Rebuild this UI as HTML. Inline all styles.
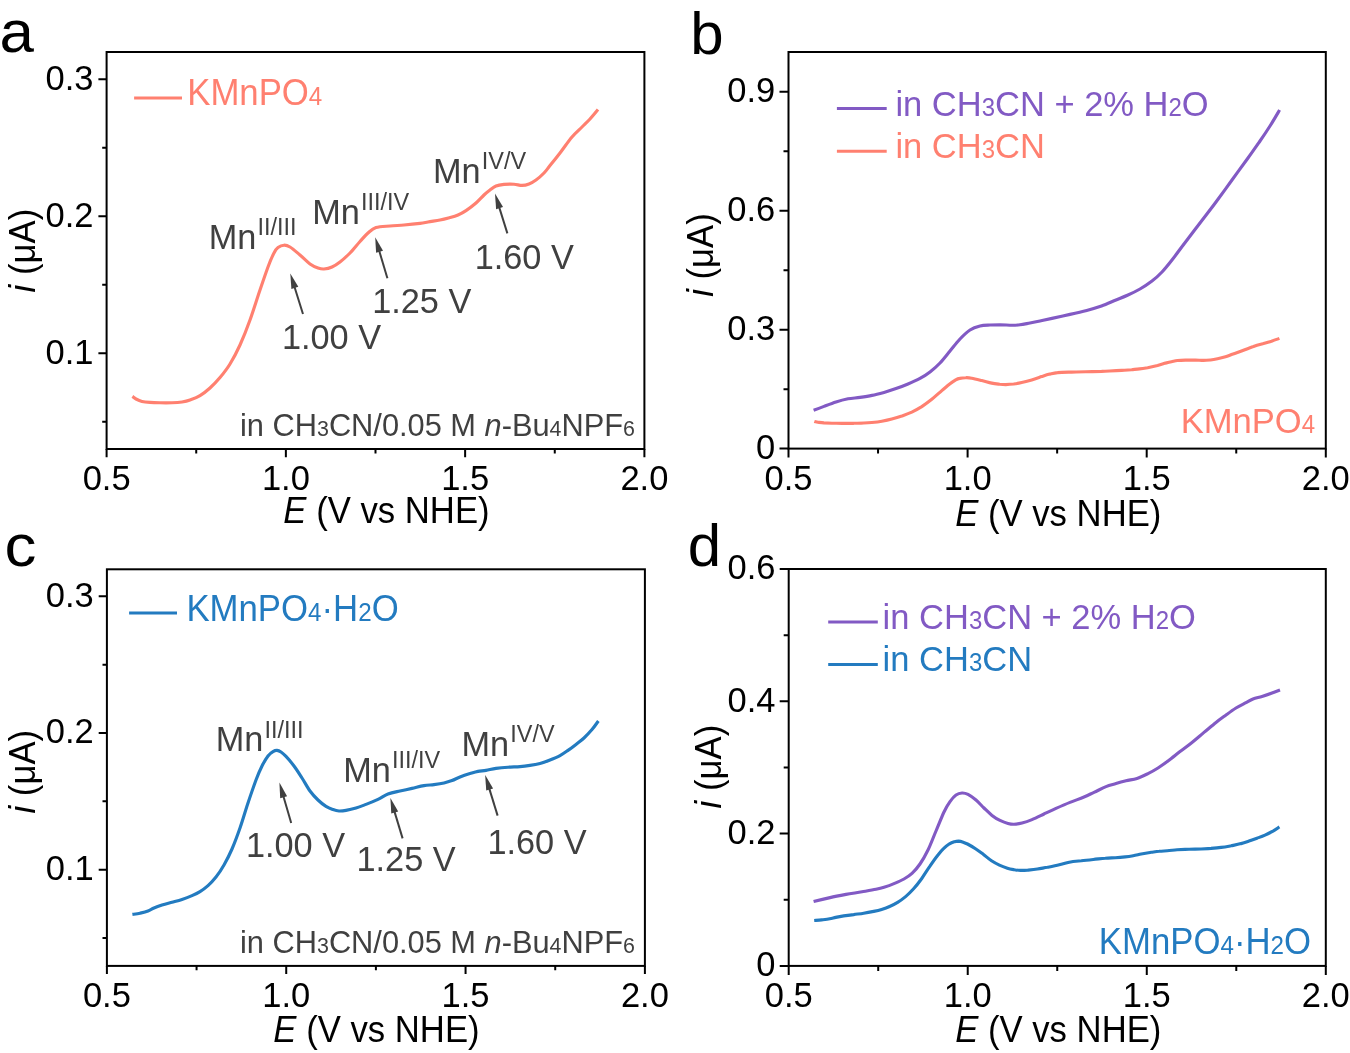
<!DOCTYPE html>
<html lang="en">
<head>
<meta charset="utf-8">
<title>Cyclic voltammetry of KMnPO4 and KMnPO4·H2O</title>
<style>
html,body{margin:0;padding:0;background:#fff;}
body{width:1350px;height:1053px;overflow:hidden;}
svg{display:block;font-family:"Liberation Sans",sans-serif;}
svg text{white-space:pre;}
</style>
</head>
<body>
<svg width="1350" height="1053" viewBox="0 0 1350 1053" role="img" aria-label="Voltammograms of KMnPO4 and KMnPO4·H2O">
<rect width="1350" height="1053" fill="#fff"/>
<rect x="106.6" y="52.0" width="537.80" height="397.00" fill="none" stroke="#000" stroke-width="2.0"/>
<path d="M106.60,449.0v8.2M285.87,449.0v8.2M465.13,449.0v8.2M644.40,449.0v8.2M196.23,449.0v4.4M375.50,449.0v4.4M554.77,449.0v4.4M106.6,79.30h-8.2M106.6,216.30h-8.2M106.6,353.30h-8.2M106.6,147.80h-4.4M106.6,284.80h-4.4M106.6,421.80h-4.4" stroke="#000" stroke-width="2.0" fill="none"/>
<text transform="translate(106.60,490.0) scale(1,1.04)" font-size="34.5px" text-anchor="middle">0.5</text>
<text transform="translate(285.87,490.0) scale(1,1.04)" font-size="34.5px" text-anchor="middle">1.0</text>
<text transform="translate(465.13,490.0) scale(1,1.04)" font-size="34.5px" text-anchor="middle">1.5</text>
<text transform="translate(644.40,490.0) scale(1,1.04)" font-size="34.5px" text-anchor="middle">2.0</text>
<text transform="translate(93.40,89.70) scale(1,1.04)" font-size="34.5px" text-anchor="end">0.3</text>
<text transform="translate(93.40,226.70) scale(1,1.04)" font-size="34.5px" text-anchor="end">0.2</text>
<text transform="translate(93.40,363.70) scale(1,1.04)" font-size="34.5px" text-anchor="end">0.1</text>
<path d="M132.4,396.4C133.0,396.8 134.4,398.2 136.0,399.0C137.6,399.8 139.7,400.8 142.0,401.4C144.3,402.0 147.0,402.2 150.0,402.4C153.0,402.6 156.3,402.7 160.0,402.8C163.7,402.9 168.3,402.9 172.0,402.8C175.7,402.7 179.0,402.5 182.0,402.0C185.0,401.5 187.0,401.1 190.0,400.0C193.0,398.9 196.7,397.6 200.0,395.6C203.3,393.6 206.7,391.0 210.0,388.0C213.3,385.0 216.7,381.6 220.0,377.6C223.3,373.6 226.7,369.4 230.0,364.0C233.3,358.6 236.7,352.3 240.0,345.0C243.3,337.7 246.7,329.2 250.0,320.0C253.3,310.8 257.0,298.8 260.0,290.0C263.0,281.2 265.7,273.2 268.0,267.0C270.3,260.8 272.3,256.2 274.0,253.0C275.7,249.8 276.3,248.9 278.0,247.6C279.7,246.3 282.0,245.3 284.0,245.2C286.0,245.1 287.3,245.4 290.0,247.0C292.7,248.6 296.7,252.2 300.0,255.0C303.3,257.8 307.0,261.8 310.0,264.0C313.0,266.2 315.7,267.2 318.0,268.0C320.3,268.8 321.7,269.2 324.0,269.0C326.3,268.8 329.3,268.2 332.0,267.0C334.7,265.8 337.0,264.3 340.0,262.0C343.0,259.7 346.7,256.4 350.0,253.0C353.3,249.6 357.0,244.8 360.0,241.5C363.0,238.2 365.3,235.3 368.0,233.0C370.7,230.7 372.3,228.8 376.0,227.6C379.7,226.4 385.3,226.4 390.0,226.0C394.7,225.6 399.0,225.4 404.0,225.0C409.0,224.6 416.0,223.9 420.0,223.4C424.0,222.9 424.7,222.6 428.0,222.0C431.3,221.4 436.3,220.7 440.0,220.0C443.7,219.3 447.0,218.4 450.0,217.6C453.0,216.8 455.3,216.2 458.0,215.0C460.7,213.8 463.0,212.6 466.0,210.6C469.0,208.6 473.0,205.6 476.0,203.0C479.0,200.4 481.7,197.2 484.0,195.0C486.3,192.8 488.0,191.5 490.0,190.0C492.0,188.5 493.7,186.9 496.0,186.0C498.3,185.1 501.0,184.7 504.0,184.4C507.0,184.1 511.0,184.0 514.0,184.2C517.0,184.4 519.5,185.4 522.0,185.4C524.5,185.4 526.7,184.9 529.0,184.0C531.3,183.1 533.5,181.8 536.0,180.0C538.5,178.2 541.7,175.4 544.0,173.0C546.3,170.6 547.3,168.9 550.0,165.6C552.7,162.3 556.3,157.8 560.0,153.0C563.7,148.2 568.3,141.3 572.0,137.0C575.7,132.7 579.0,130.0 582.0,127.0C585.0,124.0 587.3,121.9 590.0,119.0C592.7,116.1 596.7,111.2 598.0,109.6" fill="none" stroke="#FF8070" stroke-width="3.15" stroke-linejoin="round" stroke-linecap="butt"/>
<line x1="134.1" y1="97.9" x2="182" y2="97.9" stroke="#FF8070" stroke-width="3"/>
<text transform="translate(187.25,105.00) scale(1,1.04)" fill="#FF8070" font-size="34.75px" text-anchor="start"><tspan dy="0">KMnPO</tspan><tspan dy="0.00" font-size="24.17px">4</tspan></text>
<text transform="translate(208.69,249.10) scale(1,1.04)" fill="#404040" font-size="34.3px" text-anchor="start"><tspan dy="0">Mn</tspan><tspan dx="1.2" dy="-13.37" font-size="23.46px">II/III</tspan></text>
<text transform="translate(312.19,224.20) scale(1,1.04)" fill="#404040" font-size="34.3px" text-anchor="start"><tspan dy="0">Mn</tspan><tspan dx="1.2" dy="-13.37" font-size="23.46px">III/IV</tspan></text>
<text transform="translate(432.89,182.90) scale(1,1.04)" fill="#404040" font-size="34.3px" text-anchor="start"><tspan dy="0">Mn</tspan><tspan dx="1.2" dy="-13.37" font-size="23.46px">IV/V</tspan></text>
<text transform="translate(281.89,348.80) scale(1,1.04)" fill="#404040" font-size="34.3px" text-anchor="start"><tspan dy="0">1.00 V</tspan></text>
<text transform="translate(372.19,312.70) scale(1,1.04)" fill="#404040" font-size="34.3px" text-anchor="start"><tspan dy="0">1.25 V</tspan></text>
<text transform="translate(474.69,269.20) scale(1,1.04)" fill="#404040" font-size="34.3px" text-anchor="start"><tspan dy="0">1.60 V</tspan></text>
<line x1="303.0" y1="314.0" x2="294.5" y2="287.0" stroke="#404040" stroke-width="2.0"/>
<polygon points="290.3,273.4 298.3,286.8 291.4,289.0" fill="#404040"/>
<line x1="387.4" y1="278.3" x2="379.2" y2="250.8" stroke="#404040" stroke-width="2.0"/>
<polygon points="375.2,237.2 383.0,250.7 376.1,252.8" fill="#404040"/>
<line x1="507.4" y1="233.4" x2="499.2" y2="207.2" stroke="#404040" stroke-width="2.0"/>
<polygon points="495.0,193.6 503.0,207.0 496.1,209.2" fill="#404040"/>
<text transform="translate(239.97,435.60) scale(1,1.04)" fill="#404040" font-size="30.8px" text-anchor="start"><tspan dy="0">in CH</tspan><tspan dy="0.00" font-size="21.43px">3</tspan><tspan dy="0">CN/0.05 M </tspan><tspan dy="0.00" font-style="italic">n</tspan><tspan dy="0">-Bu</tspan><tspan dy="0.00" font-size="21.43px">4</tspan><tspan dy="0">NPF</tspan><tspan dy="0.00" font-size="21.43px">6</tspan></text>
<text transform="translate(283.36,522.90) scale(1,1.04)" fill="#000" font-size="34.7px" text-anchor="start"><tspan dy="0.00" font-style="italic">E</tspan><tspan dy="0"> (V vs NHE)</tspan></text>
<text transform="translate(35.10,292.40) rotate(-90) scale(1,1.04)" font-size="34.7px"><tspan font-style="italic">i</tspan> (μA)</text>
<text transform="translate(-0.60,51.6) scale(1.03,1)" font-size="60px">a</text>
<rect x="788.5" y="52.0" width="537.30" height="396.60" fill="none" stroke="#000" stroke-width="2.0"/>
<path d="M788.50,448.6v9.0M967.60,448.6v9.0M1146.70,448.6v9.0M1325.80,448.6v9.0M878.05,448.6v5.0M1057.15,448.6v5.0M1236.25,448.6v5.0M788.5,91.80h-9.0M788.5,210.73h-9.0M788.5,329.67h-9.0M788.5,448.60h-9.0M788.5,151.27h-5.0M788.5,270.20h-5.0M788.5,389.13h-5.0" stroke="#000" stroke-width="2.0" fill="none"/>
<text transform="translate(788.50,490.0) scale(1,1.04)" font-size="34.5px" text-anchor="middle">0.5</text>
<text transform="translate(967.60,490.0) scale(1,1.04)" font-size="34.5px" text-anchor="middle">1.0</text>
<text transform="translate(1146.70,490.0) scale(1,1.04)" font-size="34.5px" text-anchor="middle">1.5</text>
<text transform="translate(1325.80,490.0) scale(1,1.04)" font-size="34.5px" text-anchor="middle">2.0</text>
<text transform="translate(775.30,102.20) scale(1,1.04)" font-size="34.5px" text-anchor="end">0.9</text>
<text transform="translate(775.30,221.13) scale(1,1.04)" font-size="34.5px" text-anchor="end">0.6</text>
<text transform="translate(775.30,340.07) scale(1,1.04)" font-size="34.5px" text-anchor="end">0.3</text>
<text transform="translate(775.30,459.00) scale(1,1.04)" font-size="34.5px" text-anchor="end">0</text>
<path d="M814.3,421.4C814.9,421.6 816.3,421.9 817.9,422.2C819.5,422.4 821.5,422.7 823.9,422.9C826.2,423.0 828.9,423.1 831.9,423.2C834.9,423.2 838.2,423.3 841.9,423.3C845.5,423.3 850.2,423.3 853.8,423.3C857.5,423.2 860.8,423.2 863.8,423.0C866.8,422.9 868.8,422.8 871.8,422.5C874.8,422.2 878.5,421.8 881.8,421.2C885.1,420.6 888.5,419.9 891.8,419.0C895.1,418.1 898.5,417.1 901.8,416.0C905.1,414.8 908.5,413.6 911.8,412.1C915.1,410.5 918.4,408.7 921.8,406.6C925.1,404.4 928.4,402.0 931.8,399.3C935.1,396.7 938.8,393.2 941.8,390.6C944.8,388.1 947.4,385.8 949.7,384.0C952.1,382.2 954.1,380.9 955.7,379.9C957.4,379.0 958.1,378.7 959.7,378.4C961.4,378.0 963.7,377.7 965.7,377.7C967.7,377.6 969.1,377.7 971.7,378.2C974.4,378.7 978.4,379.7 981.7,380.5C985.1,381.3 988.7,382.5 991.7,383.1C994.7,383.7 997.4,384.0 999.7,384.3C1002.0,384.5 1003.4,384.6 1005.7,384.6C1008.0,384.5 1011.0,384.3 1013.7,384.0C1016.4,383.6 1018.7,383.2 1021.7,382.5C1024.7,381.9 1028.3,380.9 1031.7,379.9C1035.0,378.9 1038.7,377.6 1041.7,376.6C1044.7,375.6 1047.0,374.8 1049.7,374.1C1052.3,373.5 1054.0,372.9 1057.6,372.6C1061.3,372.2 1067.0,372.2 1071.6,372.1C1076.3,372.0 1080.6,372.0 1085.6,371.8C1090.6,371.7 1097.6,371.5 1101.6,371.4C1105.6,371.2 1106.3,371.1 1109.6,371.0C1112.9,370.8 1117.9,370.6 1121.6,370.4C1125.3,370.2 1128.6,369.9 1131.6,369.7C1134.6,369.4 1136.9,369.3 1139.6,368.9C1142.2,368.6 1144.6,368.2 1147.6,367.7C1150.6,367.1 1154.6,366.2 1157.6,365.5C1160.6,364.7 1163.2,363.8 1165.5,363.1C1167.9,362.5 1169.5,362.1 1171.5,361.7C1173.5,361.3 1175.2,360.8 1177.5,360.5C1179.9,360.3 1182.5,360.2 1185.5,360.1C1188.5,360.0 1192.5,360.0 1195.5,360.0C1198.5,360.1 1201.0,360.4 1203.5,360.4C1206.0,360.4 1208.2,360.2 1210.5,360.0C1212.8,359.7 1215.0,359.3 1217.5,358.8C1220.0,358.3 1223.2,357.5 1225.5,356.8C1227.8,356.1 1228.8,355.6 1231.5,354.6C1234.2,353.7 1237.8,352.4 1241.5,351.0C1245.1,349.6 1249.8,347.6 1253.5,346.4C1257.1,345.1 1260.5,344.3 1263.5,343.5C1266.5,342.6 1268.8,342.0 1271.5,341.2C1274.1,340.3 1278.1,338.9 1279.4,338.4" fill="none" stroke="#FF8070" stroke-width="3.15" stroke-linejoin="round" stroke-linecap="butt"/>
<path d="M813.6,410.2C815.3,409.6 820.3,407.8 824.0,406.4C827.7,405.0 832.0,403.3 836.0,402.0C840.0,400.7 844.0,399.6 848.0,398.8C852.0,398.0 856.0,398.0 860.0,397.4C864.0,396.8 868.0,396.2 872.0,395.4C876.0,394.6 880.0,393.5 884.0,392.4C888.0,391.3 892.0,390.0 896.0,388.6C900.0,387.2 904.0,385.7 908.0,384.0C912.0,382.3 916.3,380.4 920.0,378.4C923.7,376.4 926.7,374.6 930.0,372.0C933.3,369.4 936.7,366.5 940.0,363.0C943.3,359.5 946.7,355.0 950.0,351.0C953.3,347.0 956.7,342.5 960.0,339.0C963.3,335.5 966.7,332.2 970.0,330.0C973.3,327.8 976.7,326.8 980.0,326.0C983.3,325.2 986.7,325.2 990.0,325.0C993.3,324.8 996.3,324.8 1000.0,324.8C1003.7,324.8 1008.7,325.2 1012.0,325.2C1015.3,325.2 1017.0,325.2 1020.0,324.8C1023.0,324.4 1026.7,323.6 1030.0,323.0C1033.3,322.4 1036.3,321.8 1040.0,321.0C1043.7,320.2 1047.0,319.5 1052.0,318.4C1057.0,317.3 1064.2,315.7 1070.0,314.4C1075.8,313.1 1081.5,311.8 1086.7,310.4C1092.0,309.0 1096.6,307.7 1101.5,306.0C1106.4,304.3 1111.6,301.8 1116.0,300.0C1120.4,298.2 1124.0,296.8 1128.0,295.0C1132.0,293.2 1136.0,291.3 1140.0,289.0C1144.0,286.7 1148.3,283.8 1152.0,281.0C1155.7,278.2 1158.7,275.5 1162.0,272.0C1165.3,268.5 1168.3,264.7 1172.0,260.0C1175.7,255.3 1179.3,250.2 1184.0,244.0C1188.7,237.8 1194.7,230.0 1200.0,223.0C1205.3,216.0 1210.7,209.2 1216.0,202.0C1221.3,194.8 1226.7,187.3 1232.0,180.0C1237.3,172.7 1243.3,164.5 1248.0,158.0C1252.7,151.5 1256.3,146.3 1260.0,141.0C1263.7,135.7 1266.7,131.2 1270.0,126.0C1273.3,120.8 1278.0,112.7 1279.6,110.0" fill="none" stroke="#825AC4" stroke-width="3.15" stroke-linejoin="round" stroke-linecap="butt"/>
<line x1="836.9" y1="108.5" x2="886.7" y2="108.5" stroke="#825AC4" stroke-width="3"/>
<line x1="836.9" y1="151.3" x2="886.7" y2="151.3" stroke="#FF8070" stroke-width="3"/>
<text transform="translate(895.42,115.50) scale(1,1.04)" fill="#825AC4" font-size="34.5px" text-anchor="start"><tspan dy="0">in CH</tspan><tspan dy="0.00" font-size="24.00px">3</tspan><tspan dy="0">CN + 2% H</tspan><tspan dy="0.00" font-size="24.00px">2</tspan><tspan dy="0">O</tspan></text>
<text transform="translate(895.42,158.20) scale(1,1.04)" fill="#FF8070" font-size="34.5px" text-anchor="start"><tspan dy="0">in CH</tspan><tspan dy="0.00" font-size="24.00px">3</tspan><tspan dy="0">CN</tspan></text>
<text transform="translate(1180.66,433.40) scale(1,1.04)" fill="#FF8070" font-size="34.6px" text-anchor="start"><tspan dy="0">KMnPO</tspan><tspan dy="0.00" font-size="24.07px">4</tspan></text>
<text transform="translate(955.16,526.20) scale(1,1.04)" fill="#000" font-size="34.7px" text-anchor="start"><tspan dy="0.00" font-style="italic">E</tspan><tspan dy="0"> (V vs NHE)</tspan></text>
<text transform="translate(712.90,296.80) rotate(-90) scale(1,1.04)" font-size="34.7px"><tspan font-style="italic">i</tspan> (μA)</text>
<text transform="translate(690.16,54.2) scale(1.0,1)" font-size="60px">b</text>
<rect x="106.9" y="569.3" width="538.00" height="396.60" fill="none" stroke="#000" stroke-width="2.0"/>
<path d="M106.90,965.9v8.2M286.23,965.9v8.2M465.57,965.9v8.2M644.90,965.9v8.2M196.57,965.9v4.4M375.90,965.9v4.4M555.23,965.9v4.4M106.9,596.30h-8.2M106.9,733.00h-8.2M106.9,869.70h-8.2M106.9,664.65h-4.4M106.9,801.35h-4.4M106.9,938.05h-4.4" stroke="#000" stroke-width="2.0" fill="none"/>
<text transform="translate(106.90,1007.0) scale(1,1.04)" font-size="34.5px" text-anchor="middle">0.5</text>
<text transform="translate(286.23,1007.0) scale(1,1.04)" font-size="34.5px" text-anchor="middle">1.0</text>
<text transform="translate(465.57,1007.0) scale(1,1.04)" font-size="34.5px" text-anchor="middle">1.5</text>
<text transform="translate(644.90,1007.0) scale(1,1.04)" font-size="34.5px" text-anchor="middle">2.0</text>
<text transform="translate(93.70,606.70) scale(1,1.04)" font-size="34.5px" text-anchor="end">0.3</text>
<text transform="translate(93.70,743.40) scale(1,1.04)" font-size="34.5px" text-anchor="end">0.2</text>
<text transform="translate(93.70,880.10) scale(1,1.04)" font-size="34.5px" text-anchor="end">0.1</text>
<path d="M132.4,914.4C133.7,914.2 137.4,913.8 140.0,913.2C142.6,912.6 145.7,911.9 148.0,911.0C150.3,910.1 151.7,909.0 154.0,908.0C156.3,907.0 159.0,906.0 162.0,905.0C165.0,904.0 168.7,903.1 172.0,902.2C175.3,901.3 178.7,900.5 182.0,899.4C185.3,898.3 189.0,896.9 192.0,895.6C195.0,894.3 197.3,893.3 200.0,891.6C202.7,889.9 205.3,888.0 208.0,885.6C210.7,883.2 213.3,880.4 216.0,877.0C218.7,873.6 221.3,869.7 224.0,865.0C226.7,860.3 229.3,855.2 232.0,849.0C234.7,842.8 237.3,835.7 240.0,828.0C242.7,820.3 245.3,811.0 248.0,803.0C250.7,795.0 253.7,786.2 256.0,780.0C258.3,773.8 260.0,770.0 262.0,766.0C264.0,762.0 266.2,758.4 268.0,756.0C269.8,753.6 271.5,752.5 273.0,751.6C274.5,750.7 275.7,750.3 277.0,750.4C278.3,750.5 279.5,751.0 281.0,752.0C282.5,753.0 283.8,754.1 286.0,756.4C288.2,758.7 291.3,762.4 294.0,766.0C296.7,769.6 299.3,773.8 302.0,778.0C304.7,782.2 307.3,787.3 310.0,791.0C312.7,794.7 315.3,797.4 318.0,800.0C320.7,802.6 323.5,804.8 326.0,806.4C328.5,808.0 330.8,808.8 333.0,809.6C335.2,810.4 336.8,810.9 339.0,811.0C341.2,811.1 343.2,810.9 346.0,810.4C348.8,809.9 352.7,809.0 356.0,808.0C359.3,807.0 362.3,805.8 366.0,804.4C369.7,803.0 374.3,801.1 378.0,799.4C381.7,797.7 384.3,795.4 388.0,794.0C391.7,792.6 396.0,791.9 400.0,791.0C404.0,790.1 408.0,789.3 412.0,788.4C416.0,787.5 420.3,786.2 424.0,785.6C427.7,785.0 430.7,785.0 434.0,784.6C437.3,784.2 441.0,783.7 444.0,783.0C447.0,782.3 449.3,781.6 452.0,780.6C454.7,779.6 457.0,778.2 460.0,777.0C463.0,775.8 467.0,774.5 470.0,773.6C473.0,772.7 475.3,771.9 478.0,771.4C480.7,770.9 483.0,770.9 486.0,770.4C489.0,769.9 492.3,768.9 496.0,768.4C499.7,767.9 504.0,767.5 508.0,767.2C512.0,766.9 516.3,766.9 520.0,766.6C523.7,766.3 526.7,765.9 530.0,765.4C533.3,764.9 536.7,764.3 540.0,763.4C543.3,762.5 546.7,761.3 550.0,760.0C553.3,758.7 557.0,757.2 560.0,755.6C563.0,754.0 565.3,752.3 568.0,750.4C570.7,748.5 573.3,746.5 576.0,744.4C578.7,742.3 581.3,740.5 584.0,738.0C586.7,735.5 589.6,732.4 592.0,729.6C594.4,726.8 597.3,722.4 598.4,721.0" fill="none" stroke="#237BC0" stroke-width="3.15" stroke-linejoin="round" stroke-linecap="butt"/>
<line x1="129.1" y1="613.0" x2="177" y2="613.0" stroke="#237BC0" stroke-width="3"/>
<text transform="translate(186.45,620.60) scale(1,1.04)" fill="#237BC0" font-size="34.75px" text-anchor="start"><tspan dy="0">KMnPO</tspan><tspan dy="0.00" font-size="24.17px">4</tspan><tspan dy="0">·H</tspan><tspan dy="0.00" font-size="24.17px">2</tspan><tspan dy="0">O</tspan></text>
<text transform="translate(215.69,751.40) scale(1,1.04)" fill="#404040" font-size="34.3px" text-anchor="start"><tspan dy="0">Mn</tspan><tspan dx="1.2" dy="-13.37" font-size="23.46px">II/III</tspan></text>
<text transform="translate(343.19,782.00) scale(1,1.04)" fill="#404040" font-size="34.3px" text-anchor="start"><tspan dy="0">Mn</tspan><tspan dx="1.2" dy="-13.37" font-size="23.46px">III/IV</tspan></text>
<text transform="translate(461.49,755.60) scale(1,1.04)" fill="#404040" font-size="34.3px" text-anchor="start"><tspan dy="0">Mn</tspan><tspan dx="1.2" dy="-13.37" font-size="23.46px">IV/V</tspan></text>
<text transform="translate(245.89,856.60) scale(1,1.04)" fill="#404040" font-size="34.3px" text-anchor="start"><tspan dy="0">1.00 V</tspan></text>
<text transform="translate(356.49,871.30) scale(1,1.04)" fill="#404040" font-size="34.3px" text-anchor="start"><tspan dy="0">1.25 V</tspan></text>
<text transform="translate(487.39,854.20) scale(1,1.04)" fill="#404040" font-size="34.3px" text-anchor="start"><tspan dy="0">1.60 V</tspan></text>
<line x1="291.2" y1="823.0" x2="283.4" y2="796.2" stroke="#404040" stroke-width="2.0"/>
<polygon points="279.4,782.6 287.1,796.2 280.2,798.2" fill="#404040"/>
<line x1="402.6" y1="838.4" x2="394.5" y2="811.6" stroke="#404040" stroke-width="2.0"/>
<polygon points="390.4,798.0 398.2,811.5 391.3,813.6" fill="#404040"/>
<line x1="497.6" y1="815.6" x2="489.3" y2="788.6" stroke="#404040" stroke-width="2.0"/>
<polygon points="485.2,775.0 493.1,788.5 486.2,790.6" fill="#404040"/>
<text transform="translate(239.97,953.30) scale(1,1.04)" fill="#404040" font-size="30.8px" text-anchor="start"><tspan dy="0">in CH</tspan><tspan dy="0.00" font-size="21.43px">3</tspan><tspan dy="0">CN/0.05 M </tspan><tspan dy="0.00" font-style="italic">n</tspan><tspan dy="0">-Bu</tspan><tspan dy="0.00" font-size="21.43px">4</tspan><tspan dy="0">NPF</tspan><tspan dy="0.00" font-size="21.43px">6</tspan></text>
<text transform="translate(273.36,1041.80) scale(1,1.04)" fill="#000" font-size="34.7px" text-anchor="start"><tspan dy="0.00" font-style="italic">E</tspan><tspan dy="0"> (V vs NHE)</tspan></text>
<text transform="translate(35.10,813.50) rotate(-90) scale(1,1.04)" font-size="34.7px"><tspan font-style="italic">i</tspan> (μA)</text>
<text transform="translate(4.42,566.0) scale(1.064,1)" font-size="60px">c</text>
<rect x="788.7" y="569.0" width="537.10" height="396.90" fill="none" stroke="#000" stroke-width="2.0"/>
<path d="M788.70,965.9v9.0M967.73,965.9v9.0M1146.77,965.9v9.0M1325.80,965.9v9.0M878.22,965.9v5.0M1057.25,965.9v5.0M1236.28,965.9v5.0M788.7,569.00h-9.0M788.7,701.30h-9.0M788.7,833.60h-9.0M788.7,965.90h-9.0M788.7,635.15h-5.0M788.7,767.45h-5.0M788.7,899.75h-5.0" stroke="#000" stroke-width="2.0" fill="none"/>
<text transform="translate(788.70,1007.0) scale(1,1.04)" font-size="34.5px" text-anchor="middle">0.5</text>
<text transform="translate(967.73,1007.0) scale(1,1.04)" font-size="34.5px" text-anchor="middle">1.0</text>
<text transform="translate(1146.77,1007.0) scale(1,1.04)" font-size="34.5px" text-anchor="middle">1.5</text>
<text transform="translate(1325.80,1007.0) scale(1,1.04)" font-size="34.5px" text-anchor="middle">2.0</text>
<text transform="translate(775.50,579.40) scale(1,1.04)" font-size="34.5px" text-anchor="end">0.6</text>
<text transform="translate(775.50,711.70) scale(1,1.04)" font-size="34.5px" text-anchor="end">0.4</text>
<text transform="translate(775.50,844.00) scale(1,1.04)" font-size="34.5px" text-anchor="end">0.2</text>
<text transform="translate(775.50,976.30) scale(1,1.04)" font-size="34.5px" text-anchor="end">0</text>
<path d="M814.2,920.5C815.4,920.4 819.1,920.2 821.7,919.9C824.3,919.6 827.4,919.3 829.7,918.8C832.1,918.4 833.4,917.9 835.7,917.4C838.1,916.9 840.7,916.4 843.7,915.9C846.7,915.5 850.4,915.0 853.7,914.6C857.0,914.1 860.3,913.8 863.7,913.2C867.0,912.7 870.7,912.0 873.7,911.4C876.7,910.8 879.0,910.3 881.6,909.4C884.3,908.6 887.0,907.7 889.6,906.5C892.3,905.4 895.0,904.0 897.6,902.4C900.3,900.7 902.9,898.8 905.6,896.6C908.3,894.3 910.9,891.8 913.6,888.8C916.3,885.8 918.9,882.4 921.6,878.7C924.2,875.0 926.9,870.4 929.6,866.6C932.2,862.7 935.2,858.4 937.6,855.4C939.9,852.5 941.5,850.6 943.5,848.7C945.5,846.7 947.7,845.0 949.5,843.8C951.4,842.7 953.0,842.2 954.5,841.7C956.0,841.2 957.2,841.1 958.5,841.1C959.8,841.2 961.0,841.4 962.5,841.9C964.0,842.4 965.3,842.9 967.5,844.0C969.7,845.2 972.8,846.9 975.5,848.7C978.1,850.4 980.8,852.5 983.5,854.5C986.1,856.5 988.8,859.0 991.5,860.8C994.1,862.5 996.8,863.9 999.4,865.1C1002.1,866.4 1004.9,867.4 1007.4,868.2C1009.9,869.0 1012.3,869.4 1014.4,869.8C1016.6,870.1 1018.2,870.4 1020.4,870.4C1022.6,870.5 1024.6,870.4 1027.4,870.2C1030.2,869.9 1034.1,869.5 1037.4,869.0C1040.7,868.5 1043.7,867.9 1047.4,867.3C1051.0,866.6 1055.7,865.7 1059.3,864.8C1063.0,864.0 1065.7,862.9 1069.3,862.2C1073.0,861.5 1077.3,861.2 1081.3,860.8C1085.3,860.3 1089.3,859.9 1093.3,859.5C1097.3,859.1 1101.6,858.5 1105.3,858.2C1108.9,857.8 1111.9,857.9 1115.3,857.7C1118.6,857.5 1122.2,857.2 1125.2,856.9C1128.2,856.6 1130.6,856.2 1133.2,855.7C1135.9,855.3 1138.2,854.6 1141.2,854.0C1144.2,853.4 1148.2,852.8 1151.2,852.3C1154.2,851.9 1156.5,851.5 1159.2,851.3C1161.8,851.0 1164.2,851.0 1167.2,850.8C1170.2,850.6 1173.5,850.1 1177.1,849.8C1180.8,849.6 1185.1,849.4 1189.1,849.2C1193.1,849.1 1197.4,849.1 1201.1,849.0C1204.8,848.8 1207.8,848.6 1211.1,848.4C1214.4,848.1 1217.7,847.8 1221.1,847.4C1224.4,847.0 1227.7,846.4 1231.1,845.8C1234.4,845.1 1238.0,844.4 1241.0,843.6C1244.0,842.9 1246.4,842.0 1249.0,841.1C1251.7,840.2 1254.4,839.2 1257.0,838.2C1259.7,837.2 1262.3,836.3 1265.0,835.1C1267.7,833.9 1270.6,832.4 1273.0,831.1C1275.4,829.7 1278.3,827.6 1279.4,826.9" fill="none" stroke="#237BC0" stroke-width="3.15" stroke-linejoin="round" stroke-linecap="butt"/>
<path d="M813.6,901.6C816.3,900.9 824.6,898.8 830.0,897.6C835.4,896.4 840.7,895.4 846.0,894.4C851.3,893.4 857.0,892.7 862.0,891.8C867.0,890.9 872.3,890.0 876.0,889.2C879.7,888.4 881.0,888.1 884.0,887.2C887.0,886.3 890.7,885.0 894.0,883.6C897.3,882.2 901.0,880.7 904.0,879.0C907.0,877.3 909.3,875.9 912.0,873.4C914.7,870.9 917.3,867.9 920.0,864.0C922.7,860.1 925.3,855.5 928.0,850.0C930.7,844.5 933.3,837.3 936.0,831.0C938.7,824.7 941.7,816.9 944.0,812.0C946.3,807.1 948.0,804.4 950.0,801.6C952.0,798.8 954.0,796.4 956.0,795.0C958.0,793.6 960.0,793.1 962.0,793.0C964.0,792.9 965.7,793.2 968.0,794.4C970.3,795.6 973.3,797.7 976.0,800.0C978.7,802.3 981.3,805.4 984.0,808.0C986.7,810.6 989.3,813.3 992.0,815.4C994.7,817.5 997.3,819.1 1000.0,820.4C1002.7,821.7 1005.7,822.8 1008.0,823.4C1010.3,824.0 1011.7,824.3 1014.0,824.2C1016.3,824.1 1019.0,823.8 1022.0,823.0C1025.0,822.2 1028.3,821.1 1032.0,819.6C1035.7,818.1 1040.0,815.9 1044.0,814.0C1048.0,812.1 1051.7,810.3 1056.0,808.4C1060.3,806.5 1065.3,804.3 1070.0,802.4C1074.7,800.5 1080.0,798.7 1084.0,797.0C1088.0,795.3 1090.3,794.1 1094.0,792.4C1097.7,790.7 1102.3,788.1 1106.0,786.6C1109.7,785.1 1112.7,784.6 1116.0,783.6C1119.3,782.6 1122.5,781.7 1126.0,780.8C1129.5,779.9 1133.3,779.6 1137.0,778.4C1140.7,777.2 1144.5,775.3 1148.0,773.6C1151.5,771.9 1154.7,770.1 1158.0,768.0C1161.3,765.9 1164.3,763.7 1168.0,761.0C1171.7,758.3 1176.0,754.7 1180.0,751.6C1184.0,748.5 1188.0,745.6 1192.0,742.4C1196.0,739.2 1200.0,735.7 1204.0,732.4C1208.0,729.1 1212.3,725.3 1216.0,722.4C1219.7,719.5 1222.7,717.4 1226.0,715.0C1229.3,712.6 1232.7,710.1 1236.0,708.0C1239.3,705.9 1243.2,704.1 1246.0,702.6C1248.8,701.1 1250.3,700.0 1253.0,699.0C1255.7,698.0 1258.8,697.4 1262.0,696.4C1265.2,695.4 1269.0,694.1 1272.0,693.0C1275.0,691.9 1278.7,690.5 1280.0,690.0" fill="none" stroke="#825AC4" stroke-width="3.15" stroke-linejoin="round" stroke-linecap="butt"/>
<line x1="828.2" y1="622.1" x2="877.8" y2="622.1" stroke="#825AC4" stroke-width="3"/>
<line x1="828.2" y1="664.4" x2="877.8" y2="664.4" stroke="#237BC0" stroke-width="3"/>
<text transform="translate(882.62,629.00) scale(1,1.04)" fill="#825AC4" font-size="34.5px" text-anchor="start"><tspan dy="0">in CH</tspan><tspan dy="0.00" font-size="24.00px">3</tspan><tspan dy="0">CN + 2% H</tspan><tspan dy="0.00" font-size="24.00px">2</tspan><tspan dy="0">O</tspan></text>
<text transform="translate(882.62,671.30) scale(1,1.04)" fill="#237BC0" font-size="34.5px" text-anchor="start"><tspan dy="0">in CH</tspan><tspan dy="0.00" font-size="24.00px">3</tspan><tspan dy="0">CN</tspan></text>
<text transform="translate(1098.85,953.60) scale(1,1.04)" fill="#237BC0" font-size="34.75px" text-anchor="start"><tspan dy="0">KMnPO</tspan><tspan dy="0.00" font-size="24.17px">4</tspan><tspan dy="0">·H</tspan><tspan dy="0.00" font-size="24.17px">2</tspan><tspan dy="0">O</tspan></text>
<text transform="translate(955.16,1041.80) scale(1,1.04)" fill="#000" font-size="34.7px" text-anchor="start"><tspan dy="0.00" font-style="italic">E</tspan><tspan dy="0"> (V vs NHE)</tspan></text>
<text transform="translate(720.70,808.40) rotate(-90) scale(1,1.04)" font-size="34.7px"><tspan font-style="italic">i</tspan> (μA)</text>
<text transform="translate(687.78,566.0) scale(1.0,1)" font-size="60px">d</text>
</svg>
</body>
</html>
